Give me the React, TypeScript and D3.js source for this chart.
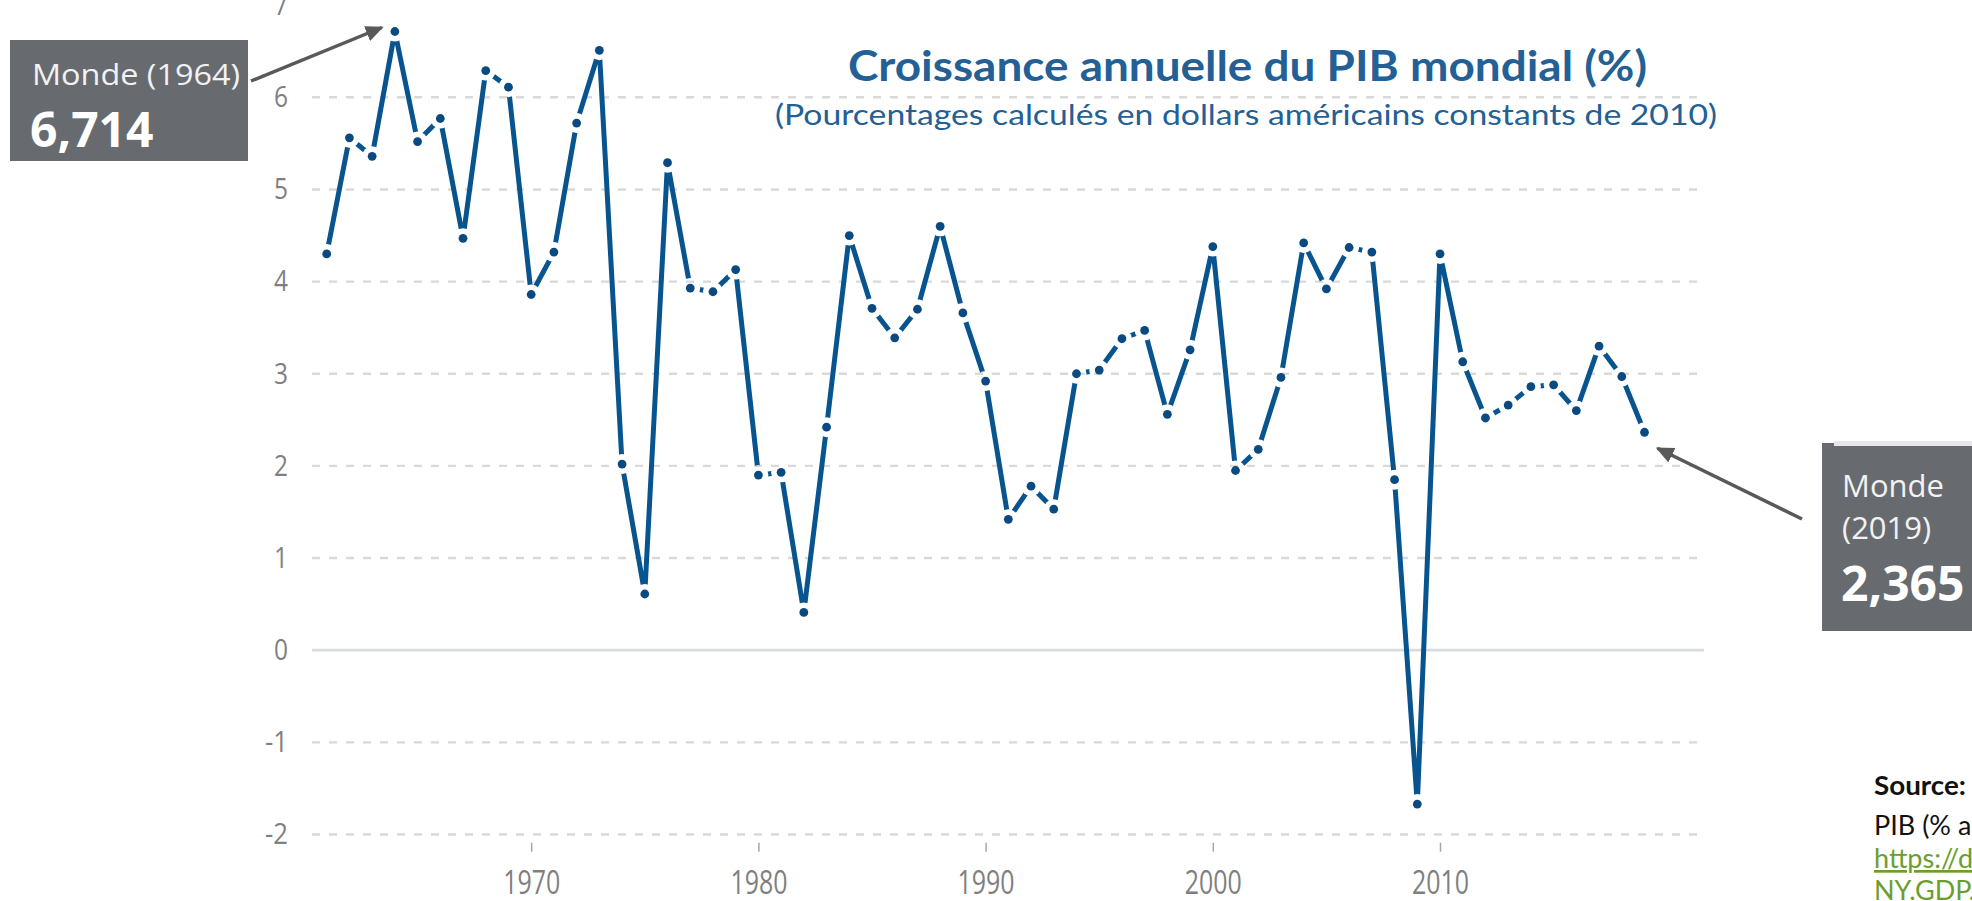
import React, { useEffect, useRef } from 'react';
import * as d3 from 'd3';

/* ── data ── */
const YEARS: number[] = d3.range(1961, 2020);
const GROWTH: number[] = [
  4.30, 5.56, 5.36, 6.714, 5.52, 5.77, 4.47, 6.29, 6.11, 3.86,
  4.32, 5.72, 6.51, 2.02, 0.61, 5.29, 3.93, 3.89, 4.13, 1.90,
  1.93, 0.41, 2.42, 4.50, 3.71, 3.39, 3.70, 4.60, 3.66, 2.92,
  1.42, 1.78, 1.53, 3.00, 3.04, 3.38, 3.47, 2.56, 3.26, 4.38,
  1.95, 2.18, 2.96, 4.42, 3.92, 4.37, 4.32, 1.85, -1.67, 4.30,
  3.13, 2.52, 2.66, 2.86, 2.88, 2.60, 3.30, 2.97, 2.365
];
const X_TICKS: number[] = [1970, 1980, 1990, 2000, 2010];
const Y_TICKS: number[] = [-2, -1, 0, 1, 2, 3, 4, 5, 6, 7];
const GRID_TICKS: number[] = [-2, -1, 1, 2, 3, 4, 5, 6];

const TITLE = 'Croissance annuelle du PIB mondial (%)';
const SUBTITLE = '(Pourcentages calculés en dollars américains constants de 2010)';
const CALLOUT_LEFT = { name: 'Monde (1964)', value: '6,714', year: 1964 };
const CALLOUT_RIGHT = { name: 'Monde', yr: '(2019)', value: '2,365', year: 2019 };
const SOURCE = [
  'Source:',
  'PIB (% annuel)',
  'https://data.worldbank.org/indicator/',
  'NY.GDP.MKTP.KD.ZG'
];

const W = 1972, H = 901;
const LINE = '#08548f';
const DOT = '#0b4a80';
const TITLE_C = '#226096';
const GRID = '#d9d9d9';
const TICK_TXT = '#7f7f7f';
const BOX = '#676b70';
const ARROW = '#595959';
const LINK = '#6b9e2e';
const tickFont = '"Open Sans", "Noto Sans", sans-serif';
const boxFont = '"Open Sans", "Noto Sans", sans-serif';
const headFont = 'Lato, "Open Sans", sans-serif';

export default function App() {
  const svgRef = useRef<SVGSVGElement>(null);

  useEffect(() => {
    const svg = d3.select(svgRef.current);
    svg.selectAll('*').remove();

    /* scales */
    const x = d3.scaleLinear().domain([1961, 2019]).range([326.7, 1644.5]);
    const y = d3.scaleLinear().domain([-2, 7]).range([834.5, 5.15]);
    const gx0 = 312, gx1 = 1704;

    const pts: [number, number][] = YEARS.map((yr, i) => [x(yr), y(GROWTH[i])]);

    svg.append('rect').attr('width', W).attr('height', H).attr('fill', '#fff');

    /* grid */
    svg.append('g').selectAll('line').data(GRID_TICKS).join('line')
      .attr('x1', gx0).attr('x2', gx1)
      .attr('y1', d => y(d)).attr('y2', d => y(d))
      .attr('stroke', GRID).attr('stroke-width', 2.4)
      .attr('stroke-dasharray', '8,9');

    svg.append('line')
      .attr('x1', gx0).attr('x2', gx1)
      .attr('y1', y(0)).attr('y2', y(0))
      .attr('stroke', '#d8dce1').attr('stroke-width', 2.8);

    /* y axis labels (plain hyphen, like the source) */
    svg.append('g')
      .attr('transform', `translate(${gx0},0)`)
      .call(d3.axisLeft(y).tickValues(Y_TICKS).tickSize(0).tickPadding(24).tickFormat(d => String(d)))
      .call(g => g.select('.domain').remove())
      .call(g => g.selectAll<SVGTextElement, number>('text')
        .attr('fill', TICK_TXT).attr('font-size', 29).attr('font-family', tickFont)
        .attr('textLength', d => (d < 0 ? 23 : 14)).attr('lengthAdjust', 'spacingAndGlyphs'));

    /* x axis */
    svg.append('g')
      .attr('transform', 'translate(0,842.7)')
      .call(d3.axisBottom(x).tickValues(X_TICKS).tickSize(9).tickPadding(20).tickFormat(d => String(d)))
      .call(g => g.select('.domain').remove())
      .call(g => g.selectAll('line').attr('stroke', '#a6a6a6').attr('stroke-width', 1.5))
      .call(g => g.selectAll('text')
        .attr('fill', TICK_TXT).attr('font-size', 32).attr('font-family', tickFont)
        .attr('textLength', 57).attr('lengthAdjust', 'spacingAndGlyphs'));

    /* gap mask around markers */
    const defs = svg.append('defs');
    const mask = defs.append('mask').attr('id', 'gaps').attr('maskUnits', 'userSpaceOnUse')
      .attr('x', 0).attr('y', 0).attr('width', W).attr('height', H);
    mask.append('rect').attr('width', W).attr('height', H).attr('fill', '#fff');
    mask.selectAll('circle').data(pts).join('circle')
      .attr('cx', d => d[0]).attr('cy', d => d[1]).attr('r', 10).attr('fill', '#000');

    defs.append('marker')
      .attr('id', 'head').attr('markerUnits', 'userSpaceOnUse')
      .attr('viewBox', '0 0 18 16').attr('markerWidth', 18).attr('markerHeight', 16)
      .attr('refX', 16).attr('refY', 8).attr('orient', 'auto')
      .append('path').attr('d', 'M0,0 L18,8 L0,16 z').attr('fill', ARROW);

    /* line + markers */
    svg.append('path')
      .datum(pts)
      .attr('fill', 'none')
      .attr('stroke', LINE)
      .attr('stroke-width', 5)
      .attr('stroke-linejoin', 'miter')
      .attr('mask', 'url(#gaps)')
      .attr('d', d3.line());

    svg.append('g').selectAll('circle').data(pts).join('circle')
      .attr('cx', d => d[0]).attr('cy', d => d[1]).attr('r', 4.4).attr('fill', DOT);

    /* title */
    svg.append('text')
      .attr('x', 848).attr('y', 81)
      .attr('font-family', headFont).attr('font-weight', 700).attr('font-size', 42)
      .attr('fill', TITLE_C)
      .attr('textLength', 799).attr('lengthAdjust', 'spacingAndGlyphs')
      .text(TITLE);
    svg.append('text')
      .attr('x', 775).attr('y', 125)
      .attr('font-family', headFont).attr('font-size', 29)
      .attr('fill', TITLE_C)
      .attr('textLength', 942).attr('lengthAdjust', 'spacingAndGlyphs')
      .text(SUBTITLE);

    /* left callout */
    const li = YEARS.indexOf(CALLOUT_LEFT.year);
    svg.append('rect').attr('x', 10).attr('y', 40).attr('width', 238).attr('height', 121).attr('fill', BOX);
    svg.append('text').attr('x', 32).attr('y', 85)
      .attr('font-family', boxFont).attr('font-size', 30).attr('fill', '#f2f2f2')
      .attr('textLength', 208).attr('lengthAdjust', 'spacingAndGlyphs')
      .text(CALLOUT_LEFT.name);
    svg.append('text').attr('x', 30).attr('y', 147)
      .attr('font-family', boxFont).attr('font-weight', 700).attr('font-size', 48).attr('fill', '#fff')
      .text(CALLOUT_LEFT.value);
    svg.append('line')
      .attr('x1', 251).attr('y1', 81)
      .attr('x2', pts[li][0] - 13).attr('y2', pts[li][1] - 4)
      .attr('stroke', ARROW).attr('stroke-width', 3.5)
      .attr('marker-end', 'url(#head)');

    /* right callout */
    const ri = YEARS.indexOf(CALLOUT_RIGHT.year);
    svg.append('rect').attr('x', 1822).attr('y', 443).attr('width', 150).attr('height', 188).attr('fill', BOX);
    svg.append('rect').attr('x', 1834).attr('y', 441).attr('width', 138).attr('height', 5).attr('fill', '#e6e8eb');
    svg.append('text').attr('x', 1842).attr('y', 497)
      .attr('font-family', boxFont).attr('font-size', 31).attr('fill', '#f2f2f2')
      .text(CALLOUT_RIGHT.name);
    svg.append('text').attr('x', 1842).attr('y', 539)
      .attr('font-family', boxFont).attr('font-size', 31).attr('fill', '#f2f2f2')
      .text(CALLOUT_RIGHT.yr);
    svg.append('text').attr('x', 1841).attr('y', 601)
      .attr('font-family', boxFont).attr('font-weight', 700).attr('font-size', 48).attr('fill', '#fff')
      .text(CALLOUT_RIGHT.value);
    svg.append('line')
      .attr('x1', 1802).attr('y1', 519)
      .attr('x2', pts[ri][0] + 13).attr('y2', pts[ri][1] + 16)
      .attr('stroke', ARROW).attr('stroke-width', 3.5)
      .attr('marker-end', 'url(#head)');

    /* source */
    const src = svg.append('g').attr('font-family', headFont);
    src.append('text').attr('x', 1874).attr('y', 795)
      .attr('font-size', 26).attr('font-weight', 700).attr('fill', '#111')
      .attr('textLength', 92).attr('lengthAdjust', 'spacingAndGlyphs')
      .text(SOURCE[0]);
    src.append('text').attr('x', 1874).attr('y', 835)
      .attr('font-size', 27).attr('fill', '#111')
      .text(SOURCE[1]);
    src.selectAll('.lnk').data(SOURCE.slice(2)).join('text')
      .attr('class', 'lnk')
      .attr('x', 1874).attr('y', (_, i) => 868 + i * 32)
      .attr('font-size', 27).attr('fill', LINK)
      .attr('text-decoration', 'underline')
      .text(d => d);
  }, []);

  return (
    <svg
      ref={svgRef}
      width={W}
      height={H}
      style={{ position: 'fixed', left: 0, top: 0, display: 'block' }}
    />
  );
}
